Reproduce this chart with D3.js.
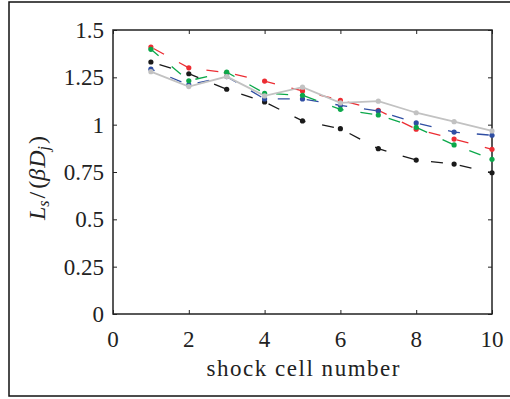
<!DOCTYPE html>
<html lang="en">
<head>
    <meta charset="UTF-8">
    <title>Shock cell length</title>
    <style>
        body { margin: 0; background: #fff; }
        svg { display: block; }
        text { font-family: "Liberation Serif", "DejaVu Serif", serif; fill: #222; }
    </style>
</head>
<body>
    <div id="chart"></div>
    <script src="https://d3js.org/d3.v7.min.js"></script>
    <script>
        // valores
        const cells = [1, 2, 3, 4, 5, 6, 7, 8, 9, 10];
        const redVals   = [1.41, 1.30, 1.275, 1.23, 1.178, 1.129, 1.076, 0.976, 0.924, 0.870];
        const greenVals = [1.398, 1.232, 1.277, 1.166, 1.155, 1.081, 1.051, 0.986, 0.893, 0.817];
        const blueVals  = [1.293, 1.21, 1.254, 1.136, 1.136, 1.102, 1.072, 1.009, 0.961, 0.944];
        const blackVals = [1.331, 1.269, 1.187, 1.12, 1.02, 0.979, 0.873, 0.813, 0.792, 0.746];
        const grayVals  = [1.28, 1.201, 1.254, 1.152, 1.198, 1.115, 1.124, 1.063, 1.016, 0.967];
        const xTicks = [0, 2, 4, 6, 8, 10];
        const yTicks = [0, 0.25, 0.5, 0.75, 1, 1.25, 1.5];
        const yTickLabels = ["0", "0.25", "0.5", "0.75", "1", "1.25", "1.5"];

        const width = 510, height = 399;
        const plotL = 113, plotR = 492, plotT = 30, plotB = 314;

        const svg = d3.select("#chart").append("svg")
            .attr("width", width)
            .attr("height", height);

        // moldura externa
        svg.append("rect")
            .attr("x", 9).attr("y", 2)
            .attr("width", 520).attr("height", 394)
            .attr("fill", "none").attr("stroke", "#111").attr("stroke-width", 1.5);

        const x = d3.scaleLinear().domain([0, 10]).range([plotL, plotR]);
        const y = d3.scaleLinear().domain([0, 1.5]).range([plotB, plotT]);

        // ticks para dentro nos quatro lados
        svg.append("g").attr("transform", `translate(0,${plotB})`)
            .call(d3.axisTop(x).tickValues(xTicks).tickSize(4).tickFormat(""));
        svg.append("g").attr("transform", `translate(0,${plotT})`)
            .call(d3.axisBottom(x).tickValues(xTicks).tickSize(4).tickFormat(""));
        svg.append("g").attr("transform", `translate(${plotL},0)`)
            .call(d3.axisRight(y).tickValues(yTicks).tickSize(4).tickFormat(""));
        svg.append("g").attr("transform", `translate(${plotR},0)`)
            .call(d3.axisLeft(y).tickValues(yTicks).tickSize(4).tickFormat(""));
        svg.selectAll(".domain").remove();
        svg.selectAll(".tick line").attr("stroke", "#222").attr("stroke-width", 1);

        svg.append("rect")
            .attr("x", plotL).attr("y", plotT)
            .attr("width", plotR - plotL).attr("height", plotB - plotT)
            .attr("fill", "none").attr("stroke", "#222").attr("stroke-width", 1.5);

        // rótulos dos ticks
        svg.selectAll(".xlab").data(xTicks).enter().append("text")
            .attr("x", d => x(d)).attr("y", 347)
            .attr("text-anchor", "middle")
            .attr("font-size", 23)
            .text(d => d);
        svg.selectAll(".ylab").data(yTicks).enter().append("text")
            .attr("x", 104).attr("y", d => y(d) + 8)
            .attr("text-anchor", "end")
            .attr("font-size", 23)
            .text((d, i) => yTickLabels[i]);

        svg.append("text")
            .attr("x", 303).attr("y", 376)
            .attr("text-anchor", "middle")
            .attr("font-size", 23)
            .attr("textLength", 193)
            .attr("lengthAdjust", "spacing")
            .text("shock cell number");

        const ylab = svg.append("text")
            .attr("transform", "translate(45,178) rotate(-90)")
            .attr("text-anchor", "middle")
            .attr("font-size", 24);
        ylab.append("tspan").attr("font-style", "italic").text("L");
        ylab.append("tspan").attr("font-style", "italic").attr("font-size", 16).attr("dy", 4).text("s");
        ylab.append("tspan").attr("dy", -4).attr("dx", 2).text("/");
        ylab.append("tspan").attr("dx", 3).text("(");
        ylab.append("tspan").attr("font-style", "italic").text("β");
        ylab.append("tspan").attr("font-style", "italic").attr("dx", 1).text("D");
        ylab.append("tspan").attr("font-style", "italic").attr("font-size", 16).attr("dy", 4).text("j");
        ylab.append("tspan").attr("dy", -4).attr("dx", 2).text(")");

        const series = [
            { vals: blackVals, color: "#1a1a1a", dash: "12,17", off: 20, w: 1.3 },
            { vals: redVals,   color: "#ec2d33", dash: "12,17", off: 26, w: 1.3 },
            { vals: blueVals,  color: "#2f4ea3", dash: "12,17", off: 8,  w: 1.3 },
            { vals: greenVals, color: "#0ba84a", dash: "12,17", off: 2,  w: 1.3 },
            { vals: grayVals,  color: "#c2c2c2", dash: null,    off: 0,  w: 1.8 }
        ];

        const line = d3.line().x((d, i) => x(cells[i])).y(d => y(d));

        series.forEach(s => {
            const g = svg.append("g");
            g.append("path")
                .attr("d", line(s.vals))
                .attr("fill", "none")
                .attr("stroke", s.color)
                .attr("stroke-width", s.w)
                .attr("stroke-dasharray", s.dash)
                .attr("stroke-dashoffset", s.off);
            g.selectAll("circle").data(s.vals).enter().append("circle")
                .attr("cx", (d, i) => x(cells[i]))
                .attr("cy", d => y(d))
                .attr("r", 2.6)
                .attr("fill", s.color);
        });
    </script>
</body>
</html>
